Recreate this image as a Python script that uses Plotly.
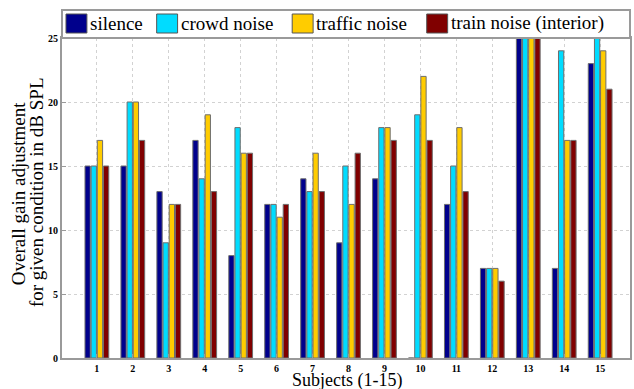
import plotly.graph_objects as go

subjects = list(range(1, 16))
series_names = ["silence", "crowd noise", "traffic noise", "train noise (interior)"]
silence = [15, 15, 13, 17, 8, 12, 14, 9, 14, 0, 12, 7, 26, 7, 23]
crowd = [15, 20, 9, 14, 18, 12, 13, 15, 18, 19, 15, 7, 26, 24, 26]
traffic = [17, 20, 12, 19, 16, 11, 16, 12, 18, 22, 18, 7, 26, 17, 24]
train = [15, 17, 12, 13, 16, 12, 13, 16, 17, 17, 13, 6, 26, 17, 21]
colors = ["#00008C", "#00DCFF", "#FFCC00", "#800000"]
y_ticks = [0, 5, 10, 15, 20, 25]

W, H = 634, 389
L, R, T, B = 62, 2, 38, 31
pw, ph = W - L - R, H - T - B

def px(x):
    return (x - L) / pw

def py(y):
    return (H - B - y) / ph

FONT = "Liberation Serif"

fig = go.Figure()
for name, vals, col in zip(series_names, [silence, crowd, traffic, train], colors):
    fig.add_trace(go.Bar(x=subjects, y=vals, name=name, marker=dict(color=col, line=dict(color="#6e6e6e", width=1)),
                         showlegend=False))

shapes = []
annotations = []
# legend box
shapes.append(dict(type="rect", xref="paper", yref="paper", x0=px(62), x1=px(632), y0=py(38), y1=py(10),
                   line=dict(color="#9a9a9a", width=2), fillcolor="white", layer="above"))
sw_x = [66, 157, 293, 428]
for sx, name, col in zip(sw_x, series_names, colors):
    shapes.append(dict(type="rect", xref="paper", yref="paper", x0=px(sx), x1=px(sx + 21), y0=py(33), y1=py(14),
                       line=dict(color="#555555", width=1), fillcolor=col, layer="above"))
    annotations.append(dict(text=name, xref="paper", yref="paper", x=px(sx + 22), y=py(23.5), xanchor="left",
                            yanchor="middle", showarrow=False, font=dict(family=FONT, size=19, color="black")))

annotations.append(dict(text="Subjects (1-15)", xref="paper", yref="paper", x=px(348), y=py(380), xanchor="center",
                        yanchor="middle", showarrow=False, font=dict(family=FONT, size=18, color="black")))
annotations.append(dict(text="Overall gain adjustment", xref="paper", yref="paper", x=px(18), y=py(194),
                        xanchor="center", yanchor="middle", textangle=-90, showarrow=False,
                        font=dict(family=FONT, size=19, color="black")))
annotations.append(dict(text="for given condition in dB SPL", xref="paper", yref="paper", x=px(36), y=py(192),
                        xanchor="center", yanchor="middle", textangle=-90, showarrow=False,
                        font=dict(family=FONT, size=19, color="black")))

fig.update_layout(
    width=W, height=H, margin=dict(l=L, r=R, t=T, b=B),
    paper_bgcolor="white", plot_bgcolor="white",
    barmode="group", bargap=0.315, bargroupgap=0.14,
    shapes=shapes, annotations=annotations,
    font=dict(family=FONT, color="black"),
)
fig.update_xaxes(range=[0.03, 15.83], tickvals=subjects, ticktext=[str(s) for s in subjects],
                 tickfont=dict(family=FONT, size=10, weight="bold"),
                 showgrid=True, gridcolor="#d2d2d2", griddash="dot", gridwidth=1,
                 showline=True, linecolor="#9a9a9a", linewidth=2, mirror=True,
                 ticks="inside", ticklen=4, tickcolor="#9a9a9a", zeroline=False)
fig.update_yaxes(range=[0, 25], tickvals=y_ticks, tickfont=dict(family=FONT, size=10, weight="bold"),
                 showgrid=True, gridcolor="#d2d2d2", griddash="dot", gridwidth=1,
                 showline=True, linecolor="#9a9a9a", linewidth=2, mirror=True,
                 ticks="inside", ticklen=4, tickcolor="#9a9a9a", zeroline=False)

fig.write_html("out.html", config={"displayModeBar": False},
               post_script="document.body.style.margin='0';document.body.style.overflow='hidden';")
